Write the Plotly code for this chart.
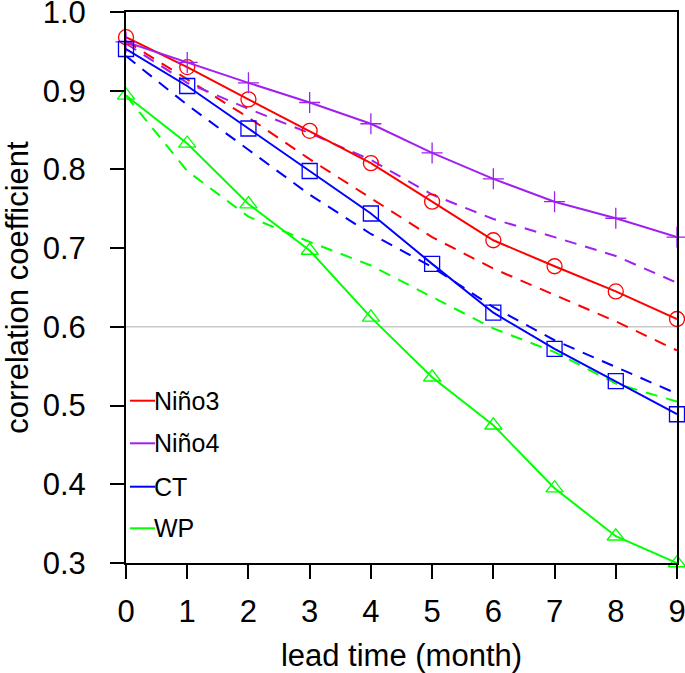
import plotly.graph_objects as go

lead_months = [0, 1, 2, 3, 4, 5, 6, 7, 8, 9]

nino3_solid = [0.968, 0.930, 0.889, 0.849, 0.808, 0.759, 0.710, 0.677, 0.645, 0.610]
nino4_solid = [0.962, 0.936, 0.910, 0.885, 0.858, 0.821, 0.788, 0.759, 0.738, 0.714]
ct_solid = [0.953, 0.906, 0.852, 0.798, 0.744, 0.680, 0.618, 0.572, 0.531, 0.489]
wp_solid = [0.894, 0.833, 0.756, 0.697, 0.612, 0.536, 0.475, 0.395, 0.334, 0.300]

nino3_dashed = [0.963, 0.914, 0.866, 0.813, 0.764, 0.714, 0.674, 0.641, 0.607, 0.570]
nino4_dashed = [0.960, 0.910, 0.877, 0.846, 0.812, 0.768, 0.737, 0.714, 0.690, 0.656]
ct_dashed = [0.944, 0.882, 0.825, 0.768, 0.718, 0.676, 0.625, 0.583, 0.549, 0.515]
wp_dashed = [0.894, 0.798, 0.740, 0.708, 0.678, 0.638, 0.598, 0.568, 0.528, 0.505]

series_names = ["Niño3", "Niño4", "CT", "WP"]
y_ticks = [0.3, 0.4, 0.5, 0.6, 0.7, 0.8, 0.9, 1.0]
ref_level = 0.6

colors = {"Niño3": "#ff0000", "Niño4": "#a020f0", "CT": "#0000ff", "WP": "#00ff00"}
symbols = {"Niño3": "circle-open", "Niño4": "cross-thin-open", "CT": "square-open", "WP": "triangle-up-open"}
solid = {"Niño3": nino3_solid, "Niño4": nino4_solid, "CT": ct_solid, "WP": wp_solid}
dashed = {"Niño3": nino3_dashed, "Niño4": nino4_dashed, "CT": ct_dashed, "WP": wp_dashed}

FONT = "Liberation Sans, Arial, Helvetica, sans-serif"

fig = go.Figure()

for name in series_names:
    fig.add_trace(go.Scatter(
        x=lead_months, y=dashed[name], mode="lines", name=name + " (dashed)",
        line=dict(color=colors[name], width=2, dash="12px,9px"),
        showlegend=False, cliponaxis=False, hoverinfo="skip"))

for name in series_names:
    fig.add_trace(go.Scatter(
        x=lead_months, y=solid[name], mode="lines+markers", name=name,
        line=dict(color=colors[name], width=2),
        marker=dict(symbol=symbols[name], size=15, color=colors[name],
                    line=dict(color=colors[name], width=1.3)),
        showlegend=False, cliponaxis=False))

fig.add_shape(type="line", xref="paper", x0=0, x1=1, yref="y", y0=ref_level, y1=ref_level,
              line=dict(color="#c8c8c8", width=1.5), layer="below")

# manual legend (lines + labels) in the lower-left corner
W, H = 551.0, 551.0
leg_rows_px = [162.3, 119.7, 76.3, 34.7]  # distance from bottom of plot area
for name, dy in zip(series_names, leg_rows_px):
    yp = dy / H
    fig.add_shape(type="line", xref="paper", yref="paper",
                  x0=4 / W, x1=29 / W, y0=yp, y1=yp,
                  line=dict(color=colors[name], width=2))
    fig.add_annotation(xref="paper", yref="paper", x=26 / W, y=yp, text=name,
                       xanchor="left", yanchor="middle", showarrow=False,
                       font=dict(family=FONT, size=25, color="black"))

fig.update_layout(
    width=685, height=673,
    margin=dict(l=126, r=8, t=12, b=110, autoexpand=False),
    paper_bgcolor="white", plot_bgcolor="white",
    font=dict(family=FONT, color="black"),
    showlegend=False,
)
fig.update_xaxes(
    range=[0, 9], tickmode="array", tickvals=lead_months,
    ticks="outside", ticklen=14, tickwidth=1.5, tickcolor="black",
    showline=True, linecolor="black", linewidth=2, mirror=True,
    showgrid=False, zeroline=False, automargin=False,
    ticklabeloverflow="allow",
    tickfont=dict(family=FONT, size=31, color="black"),
    ticklabelstandoff=6,
    title=dict(text="lead time (month)", font=dict(family=FONT, size=31, color="black"), standoff=16),
)
fig.update_yaxes(
    range=[0.3, 1.0], tickmode="array", tickvals=y_ticks, tickformat=".1f",
    ticks="outside", ticklen=14, tickwidth=1.5, tickcolor="black",
    showline=True, linecolor="black", linewidth=2, mirror=True,
    showgrid=False, zeroline=False, automargin=True,
    ticklabeloverflow="allow",
    tickfont=dict(family=FONT, size=31, color="black"),
    ticklabelstandoff=18,
    title=dict(text="correlation coefficient", font=dict(family=FONT, size=31, color="black"), standoff=22),
)

fig.write_html("out.html", config={"displayModeBar": False},
               post_script="document.body.style.margin='0';")
